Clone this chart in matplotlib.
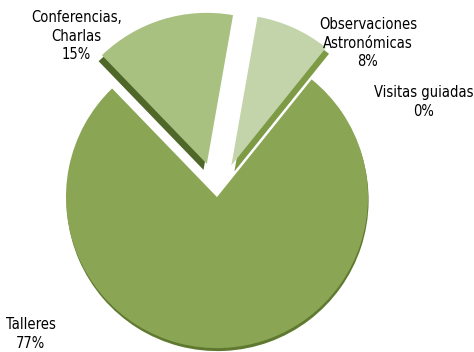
import matplotlib
matplotlib.use("Agg")
import matplotlib.pyplot as plt
from matplotlib import font_manager

# activity shares, in pie order (clockwise from the top)
labels = ["Observaciones\nAstronómicas", "Visitas guiadas", "Talleres", "Conferencias,\nCharlas"]
values = [8, 0, 77, 15]
top_colors = ["#c3d4aa", "#8aa654", "#8aa654", "#a9c180"]
side_colors = ["#7d9a45", "#5f7a30", "#5f7a30", "#4f682a"]
explode = [0.23, 0.0, 0.0, 0.23]

# narrow sans if one is around
fonts = font_manager.fontManager.ttflist
names = {f.name for f in fonts}
stretch = 'normal'
if 'Liberation Sans Narrow' in names:
    family = ['Liberation Sans Narrow', 'DejaVu Sans']
elif any(f.name == 'DejaVu Sans' and f.stretch == 'condensed' for f in fonts):
    family = ['DejaVu Sans']
    stretch = 'condensed'
else:
    family = ['Liberation Sans', 'DejaVu Sans']
plt.rcParams['font.family'] = family
plt.rcParams['font.stretch'] = stretch

fig = plt.figure(figsize=(4.74, 3.52), dpi=100)
ax = fig.add_axes([0, 0, 1, 1])

start = 80

# pie thickness: darker copy of each slice, nudged down and sideways
side_offsets = {0: (0.02, -0.04), 3: (-0.022, -0.04), 2: (0.004, -0.02)}
for i, (dx, dy) in side_offsets.items():
    wedges, _ = ax.pie(values, explode=explode, colors=side_colors, startangle=start,
                       counterclock=False, center=(dx, dy), radius=1.0,
                       wedgeprops=dict(linewidth=0))
    for j, w in enumerate(wedges):
        if j != i:
            w.set_visible(False)

ax.pie(values, explode=explode, colors=top_colors, startangle=start,
       counterclock=False, center=(0, 0), radius=1.0,
       wedgeprops=dict(linewidth=0))

ax.set_xlim(-1.437, 1.702)
ax.set_ylim(-1.026, 1.305)
ax.set_aspect('equal')
ax.axis('off')

fs = 10.5
ls = 1.3
pcts = ["%d%%" % v for v in values]
ax.text(-0.93, 1.066, labels[3] + "\n" + pcts[3], ha='center', va='center',
        fontsize=fs, linespacing=ls)
ax.text(1.0, 1.02, labels[0] + "\n" + pcts[0], ha='center', va='center',
        fontsize=fs, linespacing=ls)
ax.text(1.37, 0.63, labels[1] + "\n" + pcts[1], ha='center', va='center',
        fontsize=fs, linespacing=ls)
ax.text(-1.235, -0.907, labels[2] + "\n" + pcts[2], ha='center', va='center',
        fontsize=fs, linespacing=ls)

fig.savefig("out.png", dpi=100)
